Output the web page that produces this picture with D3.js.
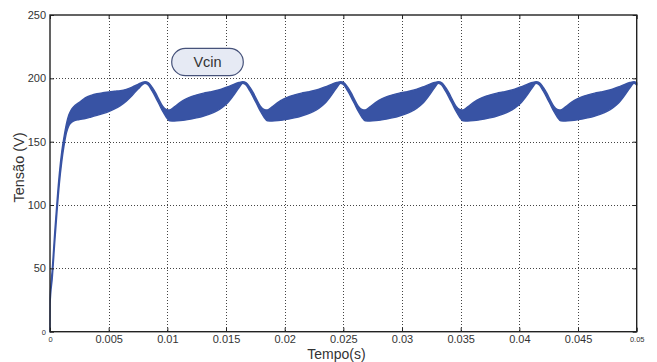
<!DOCTYPE html>
<html>
<head>
<meta charset="utf-8">
<script src="https://cdn.jsdelivr.net/npm/d3@7"></script>
<style>
  html, body { margin: 0; padding: 0; background: #fff; }
  svg { display: block; font-family: "Liberation Sans", Arial, sans-serif; }
</style>
</head>
<body>
<svg id="chart" width="657" height="362"></svg>
<script>
// ---- Data ----
const time = [
  0, 0.00001, 0.0002, 0.0004, 0.0006, 0.0008, 0.0010, 0.0012, 0.0014, 0.0016, 0.0018, 0.0020,
  0.0025, 0.0030, 0.0035, 0.0040, 0.0045, 0.0050, 0.0055, 0.0060, 0.0065, 0.0070, 0.0075,
  0.0081, 0.0084, 0.0087, 0.0090, 0.0093, 0.0096, 0.0099, 0.0102, 0.0106, 0.0111, 0.0116, 0.0121, 0.0126, 0.0131, 0.0136, 0.0141, 0.0146, 0.0151, 0.0156, 0.0161,
  0.01643, 0.01673, 0.01703, 0.01733, 0.01763, 0.01793, 0.01823, 0.01853, 0.01893, 0.01943, 0.01993, 0.02043, 0.02093, 0.02143, 0.02193, 0.02243, 0.02293, 0.02343, 0.02393, 0.02443,
  0.02477, 0.02507, 0.02537, 0.02567, 0.02597, 0.02627, 0.02657, 0.02687, 0.02727, 0.02777, 0.02827, 0.02877, 0.02927, 0.02977, 0.03027, 0.03077, 0.03127, 0.03177, 0.03227, 0.03277,
  0.0331, 0.0334, 0.0337, 0.0340, 0.0343, 0.0346, 0.0349, 0.0352, 0.0356, 0.0361, 0.0366, 0.0371, 0.0376, 0.0381, 0.0386, 0.0391, 0.0396, 0.0401, 0.0406, 0.0411,
  0.04143, 0.04173, 0.04203, 0.04233, 0.04263, 0.04293, 0.04323, 0.04353, 0.04393, 0.04443, 0.04493, 0.04543, 0.04593, 0.04643, 0.04693, 0.04743, 0.04793, 0.04843, 0.04893, 0.04943,
  0.04977, 0.0500
];
const upper = [
  0, 26, 50, 78, 103, 125, 142, 154, 164, 171, 175, 177.5,
  181, 184.5, 186.5, 187.8, 188.6, 189.2, 189.8, 190.3, 191.3, 193, 195.3,
  197.3, 196.5, 193, 188.5, 183, 178, 175.5, 175, 177.5, 181, 183.8, 185.8, 187.2, 188.3, 189.2, 190.2, 191.5, 193.2, 195, 196.7,
  197.3, 196.5, 193, 188.5, 183, 178, 175.5, 175, 177.5, 181, 183.8, 185.8, 187.2, 188.3, 189.2, 190.2, 191.5, 193.2, 195, 196.7,
  197.3, 196.5, 193, 188.5, 183, 178, 175.5, 175, 177.5, 181, 183.8, 185.8, 187.2, 188.3, 189.2, 190.2, 191.5, 193.2, 195, 196.7,
  197.3, 196.5, 193, 188.5, 183, 178, 175.5, 175, 177.5, 181, 183.8, 185.8, 187.2, 188.3, 189.2, 190.2, 191.5, 193.2, 195, 196.7,
  197.3, 196.5, 193, 188.5, 183, 178, 175.5, 175, 177.5, 181, 183.8, 185.8, 187.2, 188.3, 189.2, 190.2, 191.5, 193.2, 195, 196.7,
  197.3, 196.5
];
const lower = [
  0, 22, 43, 70, 95, 117, 134, 147, 157, 162.5, 165, 166.3,
  167.5, 168.3, 169.5, 170.8, 172.2, 173.8, 175.8, 178.5, 182, 186.5, 191.5,
  196, 194.5, 190, 185, 179.5, 174, 169.5, 166.5, 166.3, 166.6, 167.2, 168, 169, 170.3, 171.8, 173.8, 176.5, 180.3, 186, 192.5,
  196, 194.5, 190, 185, 179.5, 174, 169.5, 166.5, 166.3, 166.6, 167.2, 168, 169, 170.3, 171.8, 173.8, 176.5, 180.3, 186, 192.5,
  196, 194.5, 190, 185, 179.5, 174, 169.5, 166.5, 166.3, 166.6, 167.2, 168, 169, 170.3, 171.8, 173.8, 176.5, 180.3, 186, 192.5,
  196, 194.5, 190, 185, 179.5, 174, 169.5, 166.5, 166.3, 166.6, 167.2, 168, 169, 170.3, 171.8, 173.8, 176.5, 180.3, 186, 192.5,
  196, 194.5, 190, 185, 179.5, 174, 169.5, 166.5, 166.3, 166.6, 167.2, 168, 169, 170.3, 171.8, 173.8, 176.5, 180.3, 186, 192.5,
  196, 194.8
];
const xTicks = [0, 0.005, 0.01, 0.015, 0.02, 0.025, 0.03, 0.035, 0.04, 0.045, 0.05];
const xTickLabels = ["0", "0.005", "0.01", "0.015", "0.02", "0.025", "0.03", "0.035", "0.04", "0.045", "0.05"];
const yTicks = [0, 50, 100, 150, 200, 250];
const yTickLabels = ["0", "50", "100", "150", "200", "250"];
const seriesName = "Vcin";
const xTitle = "Tempo(s)";
const yTitle = "Tensão (V)";

// ---- Layout ----
const pLeft = 50, pRight = 636.7, pTop = 15, pBottom = 331.7;
const svg = d3.select("#chart");
const x = d3.scaleLinear().domain([0, 0.05]).range([pLeft, pRight]);
const y = d3.scaleLinear().domain([0, 250]).range([pBottom, pTop]);

// Grid
const grid = svg.append("g").attr("stroke", "#444").attr("stroke-width", 1).attr("stroke-dasharray", "1,2");
grid.selectAll("line.gx").data(xTicks.slice(1, -1)).join("line")
  .attr("x1", d => Math.round(x(d)) + 0.5).attr("x2", d => Math.round(x(d)) + 0.5)
  .attr("y1", pTop).attr("y2", pBottom);
grid.selectAll("line.gy").data(yTicks.slice(1, -1)).join("line")
  .attr("x1", pLeft).attr("x2", pRight)
  .attr("y1", d => Math.round(y(d)) + 0.5).attr("y2", d => Math.round(y(d)) + 0.5);

// Waveform band
const pts = time.map((t, i) => ({ t, u: upper[i], l: lower[i] }));
const area = d3.area().x(d => x(d.t)).y0(d => y(d.l)).y1(d => y(d.u)).curve(d3.curveMonotoneX);
svg.append("path").datum(pts).attr("d", area)
  .attr("fill", "#3853a4").attr("stroke", "#3853a4").attr("stroke-width", 1.4).attr("stroke-linejoin", "round");

// Axes (ticks inward)
const fmtX = d => xTickLabels[xTicks.indexOf(d)];
const fmtY = d => yTickLabels[yTicks.indexOf(d)];
const axB = svg.append("g").attr("transform", `translate(0,${pBottom})`)
  .call(d3.axisBottom(x).tickValues(xTicks).tickFormat(fmtX).tickSize(-4).tickPadding(4));
const axL = svg.append("g").attr("transform", `translate(${pLeft},0)`)
  .call(d3.axisLeft(y).tickValues(yTicks).tickFormat(fmtY).tickSize(-4).tickPadding(4));
const axT = svg.append("g").attr("transform", `translate(0,${pTop})`)
  .call(d3.axisTop(x).tickValues(xTicks).tickFormat("").tickSize(-4));
const axR = svg.append("g").attr("transform", `translate(${pRight},0)`)
  .call(d3.axisRight(y).tickValues(yTicks).tickFormat("").tickSize(-4));
[axB, axL, axT, axR].forEach(a => {
  a.select(".domain").remove();
  a.selectAll(".tick line").attr("stroke", "#222");
  a.selectAll("text").attr("fill", "#333").style("font-size", "11px")
    .style("font-family", "'Liberation Sans', Arial, sans-serif");
});
axB.selectAll(".tick text").filter(d => d === 0 || d === 0.05).style("font-size", "7.5px").attr("dy", "0.9em");
axL.selectAll(".tick text").filter(d => d === 0).style("font-size", "7.5px");

// Frame
svg.append("rect").attr("x", pLeft).attr("y", pTop).attr("width", pRight - pLeft).attr("height", pBottom - pTop)
  .attr("fill", "none").attr("stroke", "#222").attr("stroke-width", 1.4);

// Axis titles
svg.append("text").attr("x", 336.5).attr("y", 359).attr("text-anchor", "middle")
  .attr("fill", "#333").style("font-size", "14px").text(xTitle);
svg.append("text").attr("transform", "translate(24,167.5) rotate(-90)").attr("text-anchor", "middle")
  .attr("fill", "#333").style("font-size", "14.5px").text(yTitle);

// Series label box
const box = svg.append("g");
box.append("rect").attr("x", 171.7).attr("y", 48.3).attr("width", 71.6).attr("height", 27.4)
  .attr("rx", 13.7).attr("ry", 13.7).attr("fill", "#e6eaf4").attr("stroke", "#46527a").attr("stroke-width", 1.2);
box.append("text").attr("x", 207.5).attr("y", 67.3).attr("text-anchor", "middle")
  .attr("fill", "#333").style("font-size", "14.5px").text(seriesName);
</script>
</body>
</html>
